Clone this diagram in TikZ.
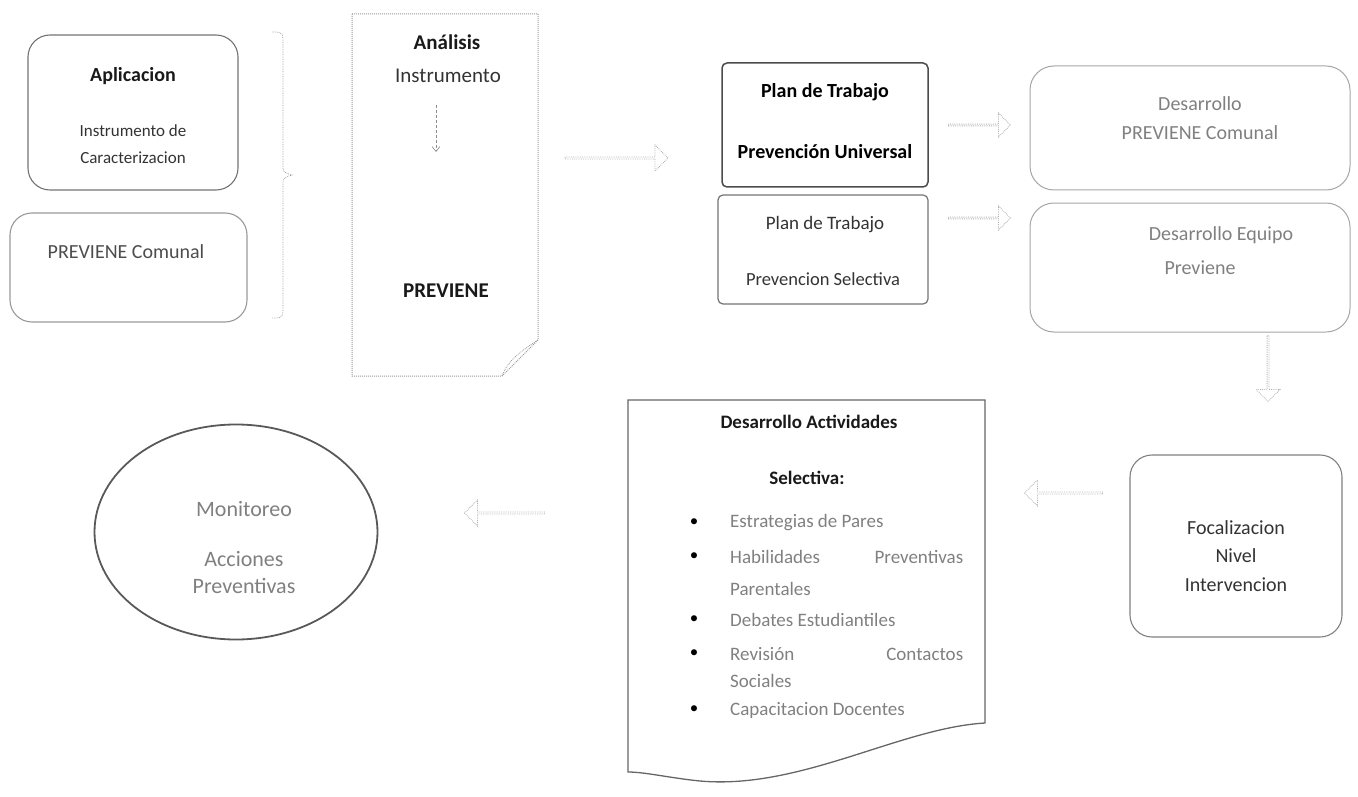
\documentclass[tikz,border=0pt]{standalone}
\usepackage{fontspec}
\setmainfont{Carlito}
\usetikzlibrary{shapes.arrows,shapes.geometric,arrows.meta}
\begin{document}
\begin{tikzpicture}[x=1pt,y=-1pt,
  rbox/.style={draw=black!55, line width=1.1pt, rounded corners=22pt, inner sep=0pt},
  lbox/.style={draw=black!35, line width=1pt, rounded corners=24pt, inner sep=0pt},
  pbox/.style={draw=black!70, line width=1.5pt, rounded corners=5pt, inner sep=0pt},
  txt/.style={font=\fontsize{17}{20}\selectfont, text=black!80, inner sep=0pt},
  ltxt/.style={font=\fontsize{20}{24}\selectfont, text=black!50, inner sep=0pt},
  btxt/.style={font=\bfseries\fontsize{19}{22}\selectfont, text=black!90, inner sep=0pt},
  bigtxt/.style={font=\bfseries\fontsize{20}{24}\selectfont, text=black, inner sep=0pt},
  blockarrow/.style={single arrow, draw=black!30, densely dotted, line width=0.8pt, minimum width=26pt, single arrow head extend=5pt, inner sep=0pt},
  itemtxt/.style={font=\fontsize{19}{22}\selectfont, text=black!50, inner sep=0pt, anchor=west}
]
\useasboundingbox (0,0) rectangle (1358,797);

% ---- left boxes
\node[rbox, minimum width=210pt, minimum height=155pt] (apl) at (133,112.5) {};
\node[btxt, font=\bfseries\fontsize{20}{24}\selectfont] (apl1) at (133,76) {Aplicacion};
\node[txt] (apl2) at (133,131) {Instrumento de};
\node[txt] (apl3) at (133,158) {Caracterizacion};

\node[rbox, draw=black!40, minimum width=237pt, minimum height=109pt] (prc) at (128.5,267.5) {};
\node[ltxt, text=black!70] (prc1) at (126,252) {PREVIENE Comunal};

% ---- brace
\coordinate (brT) at (272,32);
\coordinate (brB) at (272,318);
\coordinate (brM) at (292,175);
\draw[black!40, line width=0.7pt, densely dotted] (brT) .. controls (283,32) .. (283,45) -- (283,165) .. controls (283,172) .. (brM) .. controls (283,178) .. (283,185) -- (283,305) .. controls (283,318) .. (brB);

% ---- analysis document
\coordinate (anNW) at (352,14);
\draw[black!40, line width=1pt, densely dotted] (anNW) -- (538,14) -- (538,340) -- (502,376) -- (352,376) -- cycle;
\draw[black!40, line width=0.8pt, densely dotted] (502,376) .. controls (508,360) and (520,352) .. (538,340);
\node[btxt, font=\bfseries\fontsize{21}{24}\selectfont] (an1) at (447,42) {Análisis};
\node[txt, font=\fontsize{21}{24}\selectfont] (an2) at (448,76) {Instrumento};
\coordinate (anA) at (436,105);
\coordinate (anB) at (436,152);
\draw[black!45, densely dashed, line width=0.6pt, -{Straight Barb[length=5pt,width=8pt]}] (anA) -- (anB);
\node[btxt, font=\bfseries\fontsize{21}{24}\selectfont] (an3) at (446,291) {PREVIENE};

% ---- arrow to plan
\node[blockarrow, minimum height=103pt] (ar1) at (616,158) {};

% ---- plan boxes
\node[pbox, minimum width=206pt, minimum height=124pt] (pu) at (825,125) {};
\node[bigtxt] (pu1) at (825,92) {Plan de Trabajo};
\node[bigtxt] (pu2) at (825,152) {Prevención Universal};

\node[pbox, draw=black!55, line width=1.2pt, minimum width=210pt, minimum height=109pt] (ps) at (823,249.5) {};
\node[txt, font=\fontsize{19}{22}\selectfont] (ps1) at (825,225) {Plan de Trabajo};
\node[txt, font=\fontsize{18.5}{22}\selectfont] (ps2) at (823,279) {Prevencion Selectiva};

\node[blockarrow, minimum height=62pt, minimum width=24pt] (ar2) at (979,125) {};
\node[blockarrow, minimum height=62pt, minimum width=24pt] (ar3) at (979,218) {};

% ---- desarrollo boxes
\node[lbox, minimum width=320pt, minimum height=124pt] (dp) at (1190,128) {};
\node[ltxt] (dp1) at (1200,104) {Desarrollo};
\node[ltxt] (dp2) at (1200,133) {PREVIENE Comunal};

\node[lbox, minimum width=320pt, minimum height=129pt] (de) at (1190,267.5) {};
\node[ltxt] (de1) at (1221,235) {Desarrollo Equipo};
\node[ltxt] (de2) at (1200,268) {Previene};

\node[blockarrow, minimum height=66pt, minimum width=24pt, shape border rotate=270] (ar4) at (1268,368) {};

% ---- focalizacion
\node[rbox, draw=black!50, minimum width=212pt, minimum height=182pt] (foc) at (1236,546) {};
\node[txt, font=\fontsize{20}{24}\selectfont] (foc1) at (1236,528) {Focalizacion};
\node[txt, font=\fontsize{20}{24}\selectfont] (foc2) at (1236,556) {Nivel};
\node[txt, font=\fontsize{20}{24}\selectfont] (foc3) at (1236,585) {Intervencion};

\node[blockarrow, minimum height=78pt, shape border rotate=180] (ar5) at (1064,493) {};

% ---- actividades document
\coordinate (acNW) at (628,400);
\draw[black!60, line width=1.3pt] (acNW) -- (985,400) -- (985,723) .. controls (900,728) and (800,790) .. (700,781) .. controls (670,778) and (645,772) .. (628,772) -- cycle;
\node[btxt, font=\bfseries\fontsize{19}{22}\selectfont] (ac1) at (809,422) {Desarrollo Actividades};
\node[btxt, font=\bfseries\fontsize{19}{22}\selectfont] (ac2) at (807,478) {Selectiva:};
\foreach \yy/\nm in {523/b1,557/b2,620/b3,654/b4,710/b5}
  \node[font=\fontsize{17}{20}\selectfont, text=black, inner sep=0pt] (\nm) at (694,\yy) {\textbullet};
\node[itemtxt] (i1) at (730,523) {Estrategias de Pares};
\node[itemtxt] (i2) at (730,557) {\makebox[233pt][s]{Habilidades\hfill Preventivas}};
\node[itemtxt] (i3) at (730,589) {Parentales};
\node[itemtxt] (i4) at (730,620) {Debates Estudiantiles};
\node[itemtxt] (i5) at (730,654) {\makebox[233pt][s]{Revisión\hfill Contactos}};
\node[itemtxt] (i6) at (730,681) {Sociales};
\node[itemtxt] (i7) at (730,710) {Capacitacion Docentes};

\node[blockarrow, minimum height=80pt, shape border rotate=180] (ar6) at (505,513) {};

% ---- monitoreo ellipse
\node[ellipse, draw=black!65, line width=1.8pt, minimum width=283pt, minimum height=215pt, inner sep=0pt] (mon) at (236,532) {};
\node[ltxt, font=\fontsize{22}{26}\selectfont] (mon1) at (244,509) {Monitoreo};
\node[ltxt, font=\fontsize{22}{26}\selectfont] (mon2) at (244,559) {Acciones};
\node[ltxt, font=\fontsize{22}{26}\selectfont] (mon3) at (244,586) {Preventivas};
\end{tikzpicture}
\end{document}
